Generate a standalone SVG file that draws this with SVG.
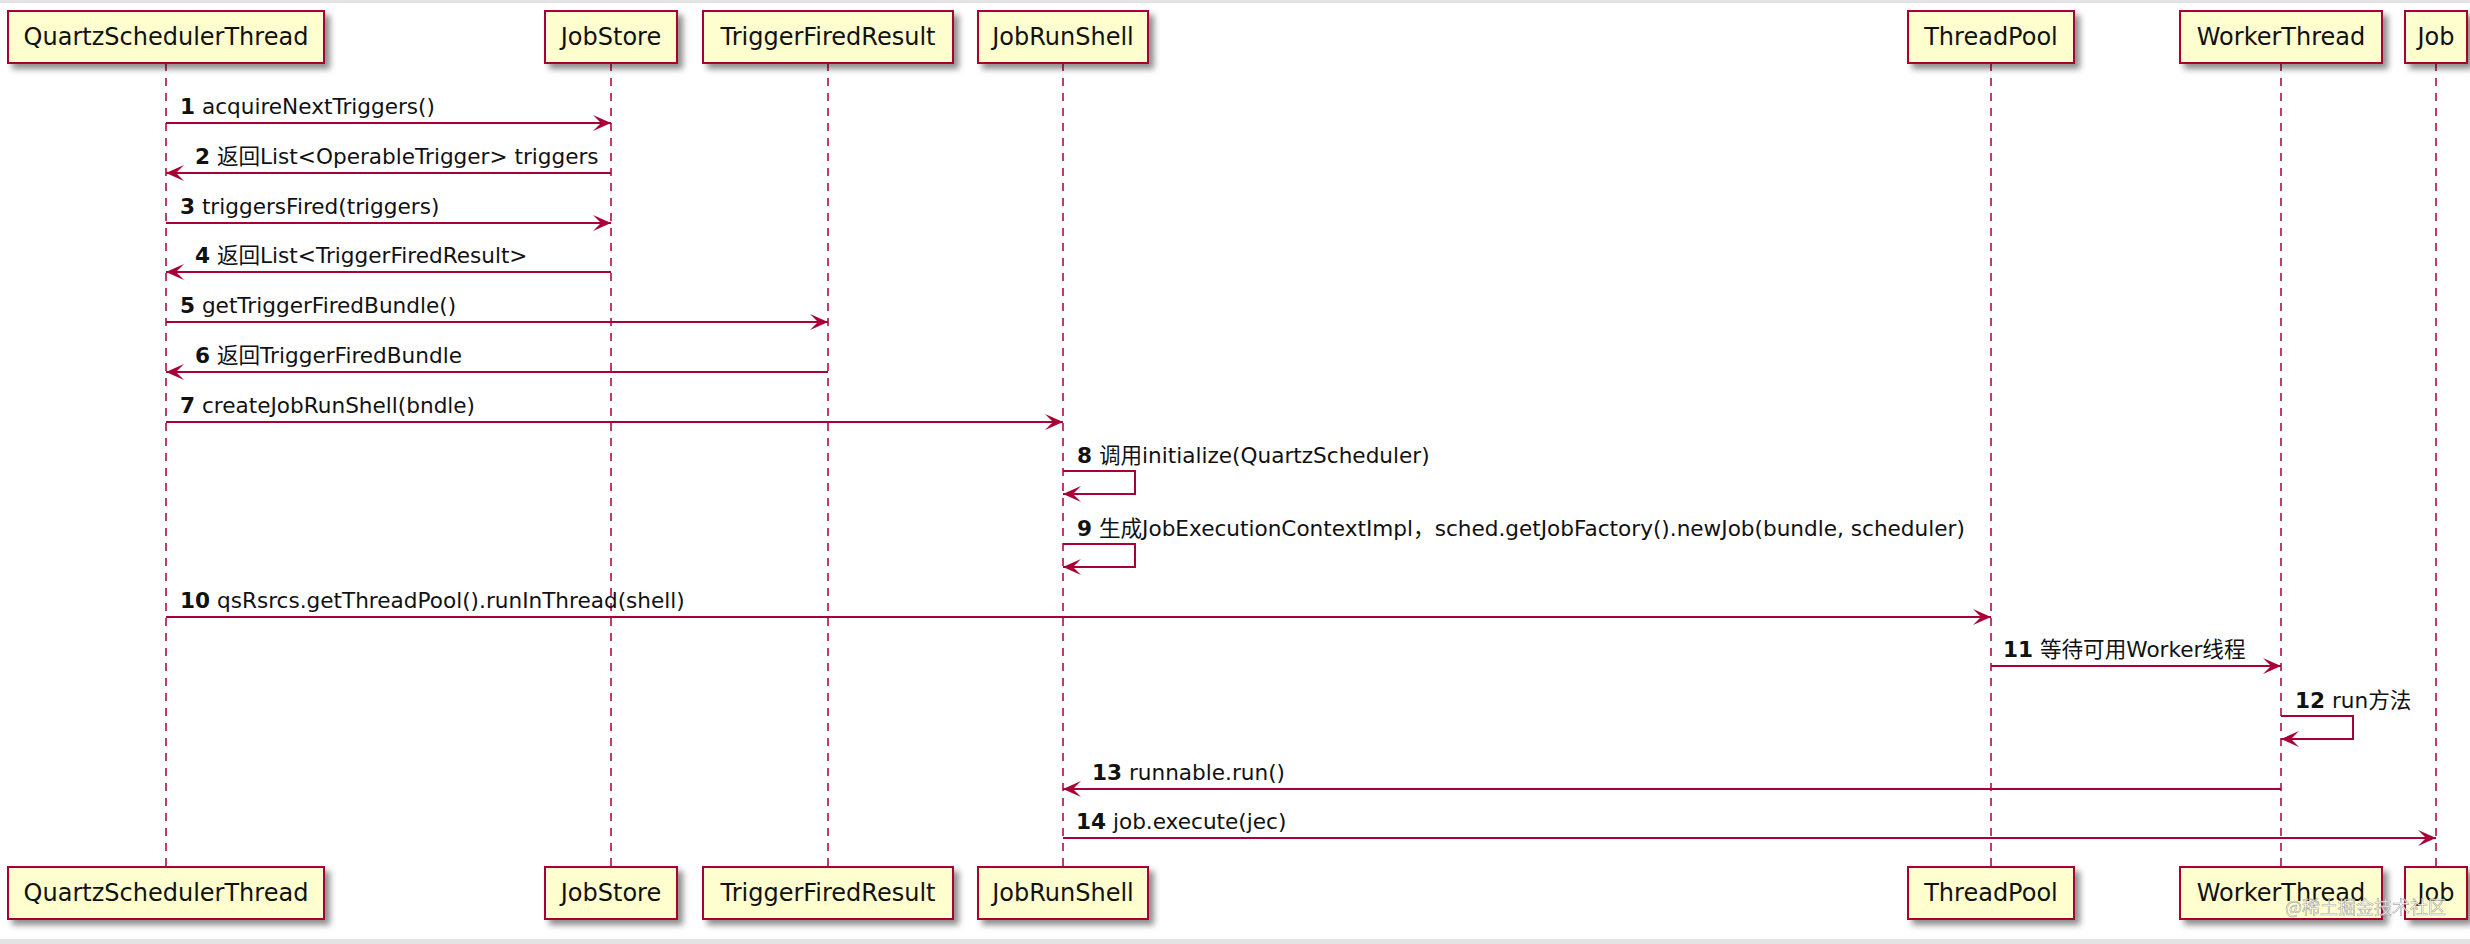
<svg xmlns="http://www.w3.org/2000/svg" width="2470" height="944" viewBox="0 0 2470 944">
<style>
.box{fill:#FEFECE;stroke:#A80036;stroke-width:2;filter:url(#sh)}
.pt{font-family:"DejaVu Sans","Noto Sans CJK SC",sans-serif;font-size:24px;fill:#111;text-anchor:middle}
.life{stroke:#A80036;stroke-width:1.5;stroke-dasharray:8,7;fill:none}
.msg{stroke:#A80036;stroke-width:2;fill:none}
.arr{marker-end:url(#ah)}
.lbl{font-family:"DejaVu Sans","Noto Sans CJK SC",sans-serif;font-size:21.6px;fill:#111}
.n{font-weight:bold}
</style>
<defs>
<filter id="sh" x="-10%" y="-20%" width="130%" height="160%">
<feGaussianBlur in="SourceAlpha" stdDeviation="3"/>
<feOffset dx="5" dy="5" result="b"/>
<feComponentTransfer><feFuncA type="linear" slope="0.45"/></feComponentTransfer>
<feMerge><feMergeNode/><feMergeNode in="SourceGraphic"/></feMerge>
</filter>
<marker id="ah" viewBox="0 0 18 16" refX="18" refY="8" markerWidth="18" markerHeight="16" markerUnits="userSpaceOnUse" orient="auto">
<path d="M0,0 L18,8 L0,16 L8,8 Z" fill="#A80036"/>
</marker>
</defs>
<rect x="0" y="0" width="2470" height="944" fill="#ffffff"/>
<rect x="0" y="0" width="2470" height="3" fill="#e4e4e4"/>
<rect x="0" y="939" width="2470" height="5" fill="#e4e4e4"/>

<g id="lifelines">
<line class="life" x1="166" y1="63" x2="166" y2="867"/>
<line class="life" x1="611" y1="63" x2="611" y2="867"/>
<line class="life" x1="828" y1="63" x2="828" y2="867"/>
<line class="life" x1="1063" y1="63" x2="1063" y2="867"/>
<line class="life" x1="1991" y1="63" x2="1991" y2="867"/>
<line class="life" x1="2281" y1="63" x2="2281" y2="867"/>
<line class="life" x1="2436" y1="63" x2="2436" y2="867"/>
</g>

<g id="QuartzSchedulerThread">
<rect class="box" x="8" y="11" width="316" height="52"/>
<text class="pt" x="166" y="45">QuartzSchedulerThread</text>
<rect class="box" x="8" y="867" width="316" height="52"/>
<text class="pt" x="166" y="901">QuartzSchedulerThread</text>
</g>
<g id="JobStore">
<rect class="box" x="545" y="11" width="132" height="52"/>
<text class="pt" x="611" y="45">JobStore</text>
<rect class="box" x="545" y="867" width="132" height="52"/>
<text class="pt" x="611" y="901">JobStore</text>
</g>
<g id="TriggerFiredResult">
<rect class="box" x="703" y="11" width="250" height="52"/>
<text class="pt" x="828" y="45">TriggerFiredResult</text>
<rect class="box" x="703" y="867" width="250" height="52"/>
<text class="pt" x="828" y="901">TriggerFiredResult</text>
</g>
<g id="JobRunShell">
<rect class="box" x="978" y="11" width="170" height="52"/>
<text class="pt" x="1063" y="45">JobRunShell</text>
<rect class="box" x="978" y="867" width="170" height="52"/>
<text class="pt" x="1063" y="901">JobRunShell</text>
</g>
<g id="ThreadPool">
<rect class="box" x="1908" y="11" width="166" height="52"/>
<text class="pt" x="1991" y="45">ThreadPool</text>
<rect class="box" x="1908" y="867" width="166" height="52"/>
<text class="pt" x="1991" y="901">ThreadPool</text>
</g>
<g id="WorkerThread">
<rect class="box" x="2180" y="11" width="202" height="52"/>
<text class="pt" x="2281" y="45">WorkerThread</text>
<rect class="box" x="2180" y="867" width="202" height="52"/>
<text class="pt" x="2281" y="901">WorkerThread</text>
</g>
<g id="Job">
<rect class="box" x="2405" y="11" width="62" height="52"/>
<text class="pt" x="2436" y="45">Job</text>
<rect class="box" x="2405" y="867" width="62" height="52"/>
<text class="pt" x="2436" y="901">Job</text>
</g>

<g id="connectors">
<line class="msg arr" x1="166" y1="123" x2="611" y2="123"/>
<line class="msg arr" x1="611" y1="173" x2="166" y2="173"/>
<line class="msg arr" x1="166" y1="223" x2="611" y2="223"/>
<line class="msg arr" x1="611" y1="272" x2="166" y2="272"/>
<line class="msg arr" x1="166" y1="322" x2="828" y2="322"/>
<line class="msg arr" x1="828" y1="372" x2="166" y2="372"/>
<line class="msg arr" x1="166" y1="422" x2="1063" y2="422"/>
<polyline class="msg arr" points="1063,471 1135,471 1135,494 1063,494"/>
<polyline class="msg arr" points="1063,544 1135,544 1135,567 1063,567"/>
<line class="msg arr" x1="166" y1="617" x2="1991" y2="617"/>
<line class="msg arr" x1="1991" y1="666" x2="2281" y2="666"/>
<polyline class="msg arr" points="2281,716 2353,716 2353,739 2281,739"/>
<line class="msg arr" x1="2281" y1="789" x2="1063" y2="789"/>
<line class="msg arr" x1="1063" y1="838" x2="2436" y2="838"/>
</g>

<g id="labels">
<text class="lbl" x="180" y="114"><tspan class="n">1</tspan> acquireNextTriggers()</text>
<text class="lbl" x="195" y="164"><tspan class="n">2</tspan> 返回List&lt;OperableTrigger&gt; triggers</text>
<text class="lbl" x="180" y="214"><tspan class="n">3</tspan> triggersFired(triggers)</text>
<text class="lbl" x="195" y="263"><tspan class="n">4</tspan> 返回List&lt;TriggerFiredResult&gt;</text>
<text class="lbl" x="180" y="313"><tspan class="n">5</tspan> getTriggerFiredBundle()</text>
<text class="lbl" x="195" y="363"><tspan class="n">6</tspan> 返回TriggerFiredBundle</text>
<text class="lbl" x="180" y="413"><tspan class="n">7</tspan> createJobRunShell(bndle)</text>
<text class="lbl" x="1077" y="463"><tspan class="n">8</tspan> 调用initialize(QuartzScheduler)</text>
<text class="lbl" x="1077" y="536"><tspan class="n">9</tspan> 生成JobExecutionContextImpl，sched.getJobFactory().newJob(bundle, scheduler)</text>
<text class="lbl" x="180" y="608"><tspan class="n">10</tspan> qsRsrcs.getThreadPool().runInThread(shell)</text>
<text class="lbl" x="2003" y="657"><tspan class="n">11</tspan> 等待可用Worker线程</text>
<text class="lbl" x="2295" y="708"><tspan class="n">12</tspan> run方法</text>
<text class="lbl" x="1092" y="780"><tspan class="n">13</tspan> runnable.run()</text>
<text class="lbl" x="1076" y="829"><tspan class="n">14</tspan> job.execute(jec)</text>
</g>

<text x="2285" y="914" font-family="'Noto Sans CJK SC',sans-serif" font-size="18" fill="#ffffff" stroke="#9a9a9a" stroke-width="0.6" opacity="0.85">@稀土掘金技术社区</text>
</svg>
